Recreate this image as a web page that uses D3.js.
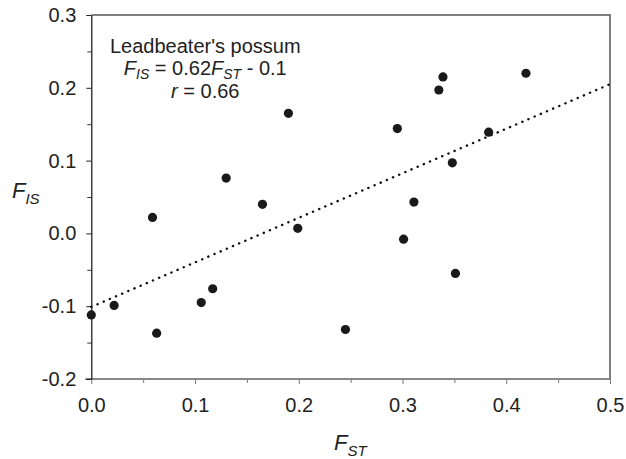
<!DOCTYPE html>
<html>
<head>
<meta charset="utf-8">
<script src="https://cdn.jsdelivr.net/npm/d3@7"></script>
<style>
  body { margin: 0; background: #fff; }
  svg { display: block; font-family: "Liberation Sans", Arial, sans-serif; }
</style>
</head>
<body>
<svg id="chart" width="626" height="459"></svg>
<script>
// F_ST and F_IS per population
var fst = [0.000, 0.022, 0.063, 0.059, 0.106, 0.117, 0.130, 0.165, 0.190, 0.199,
           0.245, 0.295, 0.301, 0.311, 0.335, 0.339, 0.348, 0.351, 0.383, 0.419];
var fis = [-0.112, -0.099, -0.137, 0.022, -0.095, -0.076, 0.076, 0.040, 0.165, 0.007,
           -0.132, 0.144, -0.008, 0.043, 0.197, 0.215, 0.097, -0.055, 0.139, 0.220];

// regression line end points
var fitX = [0.0, 0.5];
var fitY = [-0.101, 0.205];

var xTicks = [0.0, 0.1, 0.2, 0.3, 0.4, 0.5];
var yTicks = [-0.2, -0.1, 0.0, 0.1, 0.2, 0.3];
var xMinor = [0.05, 0.15, 0.25, 0.35, 0.45];
var yMinor = [-0.15, -0.05, 0.05, 0.15, 0.25];

var margin = {top: 15, right: 16, bottom: 80, left: 91.3};
var svg = d3.select('#chart');
var width = +svg.attr('width') - margin.left - margin.right;
var height = +svg.attr('height') - margin.top - margin.bottom;

var x = d3.scaleLinear().domain([0, 0.5]).range([0, width]);
var y = d3.scaleLinear().domain([-0.2, 0.3]).range([height, 0]);

// plain hyphen for negatives, like the original
function fmt(d) { return d3.format('.1f')(d).replace('\u2212', '-'); }

var g = svg.append('g').attr('transform', 'translate(' + margin.left + ',' + margin.top + ')');

// frame top / right
g.append('path')
  .attr('d', 'M0,0H' + width + 'V' + height)
  .attr('fill', 'none')
  .attr('stroke', '#555')
  .attr('stroke-width', 1.5);

// minor ticks
g.append('g')
  .attr('transform', 'translate(0,' + height + ')')
  .call(d3.axisBottom(x).tickValues(xMinor).tickSize(4).tickFormat(''))
  .call(function(s) { s.select('.domain').remove(); s.selectAll('line').attr('stroke', '#777'); });
g.append('g')
  .call(d3.axisLeft(y).tickValues(yMinor).tickSize(4).tickFormat(''))
  .call(function(s) { s.select('.domain').remove(); s.selectAll('line').attr('stroke', '#333'); });

// x axis
var xAxis = g.append('g')
  .attr('transform', 'translate(0,' + height + ')')
  .call(d3.axisBottom(x).tickValues(xTicks).tickSize(5).tickSizeOuter(0).tickPadding(14).tickFormat(fmt));
xAxis.select('.domain').attr('stroke', '#888').attr('stroke-width', 2)
  .attr('d', 'M-6,0H' + width);
xAxis.selectAll('line').attr('stroke', '#777');
xAxis.selectAll('text').attr('font-size', 20).attr('fill', '#222').attr('font-family', 'Liberation Sans, Arial, sans-serif');

// y axis
var yAxis = g.append('g')
  .call(d3.axisLeft(y).tickValues(yTicks).tickSize(5).tickSizeOuter(0).tickPadding(10).tickFormat(fmt));
yAxis.select('.domain').attr('stroke', '#111').attr('stroke-width', 1.2);
yAxis.selectAll('line').attr('stroke', '#222');
yAxis.selectAll('text').attr('font-size', 20).attr('fill', '#222').attr('font-family', 'Liberation Sans, Arial, sans-serif');

// fitted line
g.append('path')
  .datum(d3.zip(fitX, fitY))
  .attr('d', d3.line().x(function(d) { return x(d[0]); }).y(function(d) { return y(d[1]); }))
  .attr('fill', 'none')
  .attr('stroke', '#111')
  .attr('stroke-width', 2.4)
  .attr('stroke-linecap', 'round')
  .attr('stroke-dasharray', '0.2 6.5');

// points
g.selectAll('circle.pt')
  .data(d3.zip(fst, fis))
  .enter().append('circle')
  .attr('class', 'pt')
  .attr('cx', function(d) { return x(d[0]); })
  .attr('cy', function(d) { return y(d[1]); })
  .attr('r', 4.6)
  .attr('fill', '#1a1a1a');

// annotation
var note = g.append('g').attr('fill', '#222').attr('text-anchor', 'middle');
note.append('text').attr('x', 114).attr('y', 38.3).attr('font-size', 20).text("Leadbeater's possum");
var eq = note.append('text').attr('x', 114).attr('y', 60).attr('font-size', 20);
eq.append('tspan').attr('font-style', 'italic').text('F');
eq.append('tspan').attr('font-style', 'italic').attr('font-size', 14).attr('dy', 4).text('IS');
eq.append('tspan').attr('dy', -4).text(' = 0.62');
eq.append('tspan').attr('font-style', 'italic').text('F');
eq.append('tspan').attr('font-style', 'italic').attr('font-size', 14).attr('dy', 4).text('ST');
eq.append('tspan').attr('dy', -4).text(' - 0.1');
var rt = note.append('text').attr('x', 114).attr('y', 83.3).attr('font-size', 20);
rt.append('tspan').attr('font-style', 'italic').text('r');
rt.append('tspan').text(' = 0.66');

// axis titles
var yt = svg.append('text').attr('x', 12).attr('y', 197.7).attr('font-size', 22).attr('fill', '#222').attr('font-style', 'italic');
yt.append('tspan').text('F');
yt.append('tspan').attr('font-size', 15).attr('dy', 6).text('IS');

var xt = svg.append('text').attr('x', 334).attr('y', 450).attr('font-size', 22).attr('fill', '#222').attr('font-style', 'italic');
xt.append('tspan').text('F');
xt.append('tspan').attr('font-size', 15).attr('dy', 6).text('ST');
</script>
</body>
</html>
